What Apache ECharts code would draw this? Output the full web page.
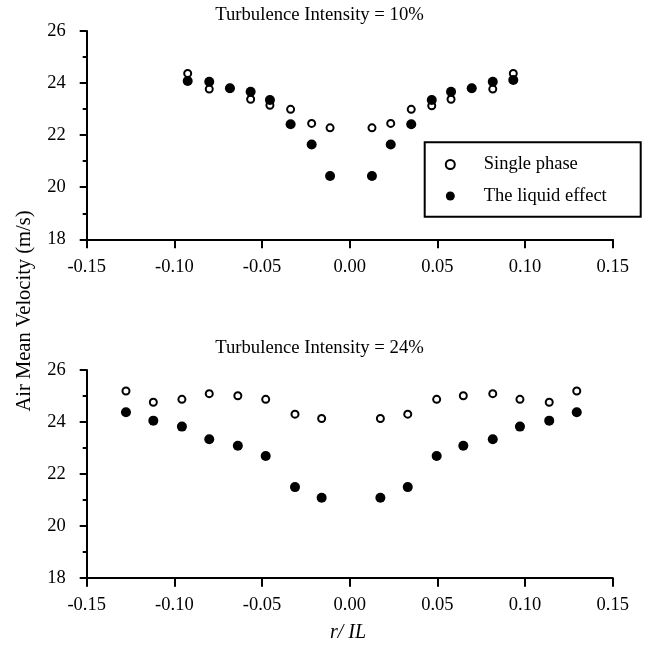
<!DOCTYPE html>
<html><head><meta charset="utf-8">
<script src="https://cdn.jsdelivr.net/npm/echarts@6/dist/echarts.min.js"></script>
<style>html,body{margin:0;padding:0;background:#fff}#c{width:663px;height:646px}</style>
</head><body><div id="c"></div>
<script>
// ---- Data ----
const xTop = [-0.0924, -0.0801, -0.0683, -0.0565, -0.0455, -0.0337, -0.0217, -0.0112, 0.0127, 0.0234, 0.0351, 0.0468, 0.0578, 0.0696, 0.0816, 0.0933];
const singleTop = [24.37, 23.77, 23.80, 23.38, 23.15, 22.99, 22.45, 22.28, 22.28, 22.45, 22.99, 23.13, 23.38, 23.80, 23.77, 24.37];
const liquidTop = [24.08, 24.05, 23.80, 23.67, 23.35, 22.42, 21.64, 20.43, 20.43, 21.64, 22.42, 23.35, 23.67, 23.80, 24.05, 24.12];

const xBot = [-0.1276, -0.1120, -0.0957, -0.0801, -0.0638, -0.0479, -0.0312, -0.0160, 0.0175, 0.0331, 0.0496, 0.0648, 0.0816, 0.0971, 0.1138, 0.1295];
const singleBot = [25.19, 24.76, 24.87, 25.09, 25.01, 24.87, 24.30, 24.13, 24.13, 24.30, 24.87, 25.01, 25.09, 24.87, 24.76, 25.19];
const liquidBot = [24.37, 24.05, 23.82, 23.33, 23.08, 22.69, 21.49, 21.08, 21.08, 21.49, 22.69, 23.08, 23.33, 23.82, 24.05, 24.37];

const titleTop = 'Turbulence Intensity = 10%';
const titleBot = 'Turbulence Intensity = 24%';
const seriesNames = ['Single phase', 'The liquid effect'];
const yName = 'Air Mean Velocity (m/s)';
const xName = 'r/ IL';

const FONT = '"Liberation Serif", "Times New Roman", serif';
const zip = (xs, ys) => xs.map((x, i) => [x, ys[i]]);

function xAxisCfg(idx) {
  return {
    gridIndex: idx, type: 'value', min: -0.15, max: 0.15, interval: 0.05,
    axisLine: { show: true, onZero: false, lineStyle: { color: '#000', width: 2 } },
    axisTick: { show: true, inside: false, length: 9, lineStyle: { color: '#000', width: 2 } },
    axisLabel: { color: '#000', fontFamily: FONT, fontSize: 18.5, margin: 18,
      formatter: v => v.toFixed(2) },
    splitLine: { show: false }
  };
}
function yAxisCfg(idx) {
  return {
    gridIndex: idx, type: 'value', min: 18, max: 26, interval: 2,
    axisLine: { show: true, onZero: false, lineStyle: { color: '#000', width: 2 } },
    axisTick: { show: true, inside: false, length: 7, lineStyle: { color: '#000', width: 2 } },
    minorTick: { show: true, splitNumber: 2, length: 4, lineStyle: { color: '#000', width: 2 } },
    axisLabel: { color: '#000', fontFamily: FONT, fontSize: 18.5, margin: 21 },
    splitLine: { show: false }, minorSplitLine: { show: false }
  };
}
const openStyle = { color: '#fff', borderColor: '#000', borderWidth: 2, opacity: 1 };
const fillStyle = { color: '#000', borderWidth: 0, opacity: 1 };

const chart = echarts.init(document.getElementById('c'), null, { renderer: 'canvas' });
chart.setOption({
  animation: false,
  backgroundColor: '#fff',
  grid: [
    { left: 86.7, top: 31, width: 526, height: 208.3 },
    { left: 86.7, top: 370, width: 526, height: 207.7 }
  ],
  xAxis: [xAxisCfg(0), xAxisCfg(1)],
  yAxis: [yAxisCfg(0), yAxisCfg(1)],
  legend: {
    data: seriesNames, orient: 'vertical', left: 444.8, top: 155,
    itemWidth: 9, itemHeight: 9, itemGap: 12.5, padding: 0,
    textStyle: { color: '#000', fontFamily: FONT, fontSize: 18.5, padding: [0, 0, 0, 24] },
    selectedMode: false
  },
  graphic: [
    { type: 'rect', shape: { x: 424.7, y: 142.3, width: 216, height: 74.4 },
      style: { fill: 'none', stroke: '#000', lineWidth: 2 }, z: 1 },
    { type: 'text', x: 319.5, y: 15, style: { text: titleTop, font: '18.7px ' + FONT, fill: '#000', textAlign: 'center', textVerticalAlign: 'middle' } },
    { type: 'text', x: 319.5, y: 348, style: { text: titleBot, font: '18.7px ' + FONT, fill: '#000', textAlign: 'center', textVerticalAlign: 'middle' } },
    { type: 'text', x: 25, y: 311, rotation: Math.PI / 2, style: { text: yName, font: '20.5px ' + FONT, fill: '#000', textAlign: 'center', textVerticalAlign: 'middle' } },
    { type: 'text', x: 348, y: 633, style: { text: xName, font: 'italic 20px ' + FONT, fill: '#000', textAlign: 'center', textVerticalAlign: 'middle' } }
  ],
  series: [
    { name: seriesNames[0], type: 'scatter', xAxisIndex: 0, yAxisIndex: 0, data: zip(xTop, singleTop), symbol: 'circle', symbolSize: 7, itemStyle: openStyle, emphasis: { disabled: true }, z: 2 },
    { name: seriesNames[1], type: 'scatter', xAxisIndex: 0, yAxisIndex: 0, data: zip(xTop, liquidTop), symbol: 'circle', symbolSize: 10, itemStyle: fillStyle, emphasis: { disabled: true }, z: 3 },
    { name: seriesNames[0], type: 'scatter', xAxisIndex: 1, yAxisIndex: 1, data: zip(xBot, singleBot), symbol: 'circle', symbolSize: 7, itemStyle: openStyle, emphasis: { disabled: true }, z: 2 },
    { name: seriesNames[1], type: 'scatter', xAxisIndex: 1, yAxisIndex: 1, data: zip(xBot, liquidBot), symbol: 'circle', symbolSize: 10, itemStyle: fillStyle, emphasis: { disabled: true }, z: 3 }
  ]
});
</script>
</body></html>
